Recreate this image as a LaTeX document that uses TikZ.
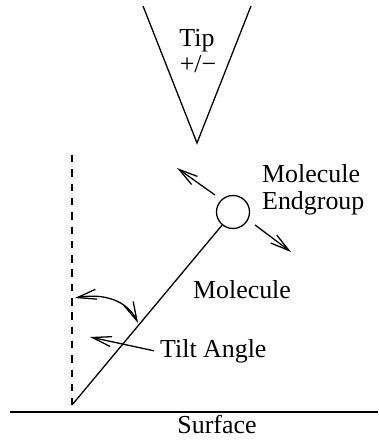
\documentclass[tikz,border=0pt]{standalone}
\usepackage{fontspec}
\setmainfont{Liberation Serif}
\usetikzlibrary{arrows.meta}
\begin{document}
\begin{tikzpicture}[x=1bp,y=-1bp,
  ln/.style={line width=1.3bp},
  lbl/.style={font=\fontsize{26}{30}\selectfont, inner sep=0pt},
  barb/.style={-{Straight Barb[length=19bp,width=10bp,line width=1.3bp]}},
  dbarb/.style={{Straight Barb[length=19bp,width=10bp,line width=1.3bp]}-{Straight Barb[length=19bp,width=10bp,line width=1.3bp]}}]
\useasboundingbox (0,0) rectangle (378,447);
% tip
\coordinate (tl) at (143,6);
\coordinate (tb) at (197,143);
\coordinate (tr) at (251,6);
\draw[ln, line join=miter] (tl) -- (tb) -- (tr);
\node[lbl, anchor=base] (tip) at (197,47) {Tip};
\node[lbl, anchor=base] (pm) at (198,73) {+/\textminus};
% surface
\coordinate (sl) at (10,412);
\coordinate (sr) at (378,412);
\draw[ln] (sl) -- (sr);
\node[lbl, anchor=base] (surf) at (217,433) {Surface};
% dashed vertical
\coordinate (dt) at (72,155);
\coordinate (db) at (72,405);
\draw[ln, dash pattern=on 7.5bp off 6.8bp] (dt) -- (db);
% molecule
\node[circle, draw, line width=1.3bp, minimum size=33bp, inner sep=0pt] (end) at (233,212) {};
\coordinate (mb) at (72,405);
\draw[ln] (mb) -- (end);
\node[lbl, anchor=base] (mol) at (242,298) {Molecule};
\node[lbl, anchor=base west] (mol2) at (262,183) {Molecule};
\node[lbl, anchor=base west] (eg) at (262,210) {Endgroup};
% endgroup arrows
\coordinate (a1s) at (215,195);
\coordinate (a1e) at (177,168);
\coordinate (a2s) at (255,225);
\coordinate (a2e) at (291,252);
\draw[ln, barb] (a1s) -- (a1e);
\draw[ln, barb] (a2s) -- (a2e);
% tilt angle arc
\coordinate (ca) at (75,298);
\coordinate (cb) at (138,323);
\draw[ln, dbarb] (ca) .. controls (103,293) and (127,300) .. (cb);
% tilt label
\node[lbl, anchor=base west] (tilt) at (160,357) {Tilt Angle};
\coordinate (ta) at (90,337);
\draw[ln, barb] (tilt.west) ++(-6bp,0) coordinate (ts) (ts) -- (ta);
\end{tikzpicture}
\end{document}
